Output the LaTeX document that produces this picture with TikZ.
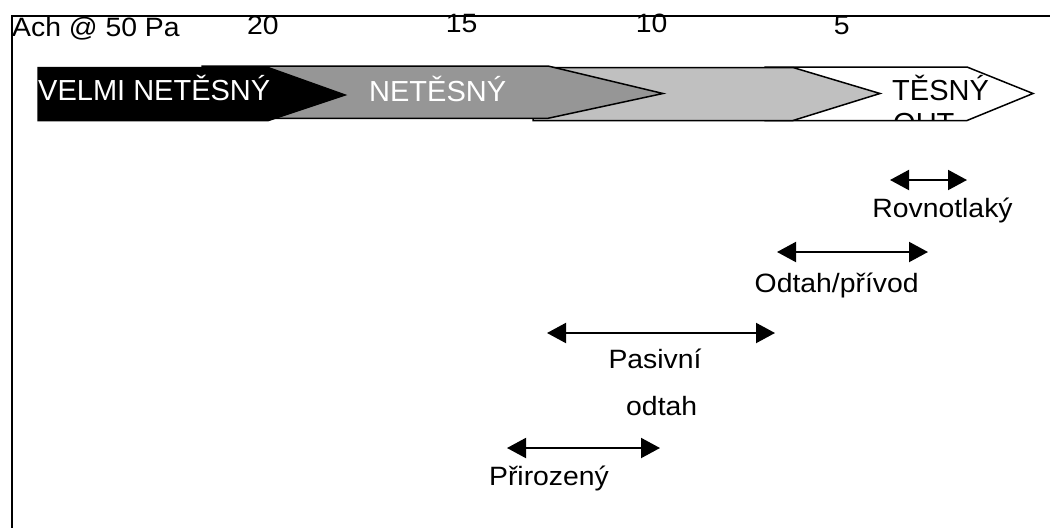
\documentclass[tikz,border=0pt]{standalone}
\usepackage{fontspec}
\setmainfont{Liberation Sans}[FakeStretch=1.07]
\newfontfamily\bandfont{Liberation Sans}
\usetikzlibrary{arrows.meta}
\definecolor{midgray}{HTML}{969696}
\definecolor{lightgray}{HTML}{C0C0C0}
\tikzset{
  lbl/.style={inner sep=0pt, anchor=base, font=\fontsize{26.5}{32}\selectfont},
  bandtxt/.style={inner sep=0pt, anchor=base west, font=\bandfont\fontsize{29}{34}\selectfont},
  band/.style={draw=black, line width=1.5pt, line join=miter},
  dbl/.style={line width=2pt, {Triangle[length=19pt,width=20pt]}-{Triangle[length=19pt,width=20pt]}},
  frame/.style={line width=1.5pt}
}
\begin{document}
\begin{tikzpicture}[x=1pt,y=-1pt]
\useasboundingbox (0,0) rectangle (1050,528);
% frame
\coordinate (ftl) at (12,16);
\coordinate (ftr) at (1050,16);
\coordinate (fbl) at (12,528);
\draw[frame] (ftr) -- (ftl) -- (fbl);
% axis labels
\node[lbl, anchor=base west] (ach) at (12,36.5) {Ach @ 50 Pa};
\node[lbl] (t20) at (263,34.3) {20};
\node[lbl] (t15) at (461.7,32.3) {15};
\node[lbl] (t10) at (651.7,32.3) {10};
\node[lbl] (t5) at (841.7,34.3) {5};
% band: white (TĚSNÝ)
\draw[band, fill=white] (765,67) -- (967,67) -- (1033,93.5) -- (967,120.5) -- (765,120.5) -- cycle;
\node[bandtxt, text=black] (tesny) at (892,100) {TĚSNÝ};
\begin{scope}
\clip (765,67) -- (967,67) -- (1033,93.5) -- (967,120) -- (765,120) -- cycle;
\node[bandtxt, text=black] (tesny2) at (893,133.5) {OUT};
\end{scope}
% band: light gray
\draw[band, fill=lightgray] (533,67.5) -- (793,67.5) -- (880,93.5) -- (793,120.5) -- (533,120.5) -- cycle;
% band: medium gray (NETĚSNÝ)
\draw[band, fill=midgray] (202,66) -- (548,66) -- (663,93.5) -- (548,118.3) -- (202,118.3) -- cycle;
\node[bandtxt, text=white] (netesny) at (369,101) {NETĚSNÝ};
% band: black (VELMI NETĚSNÝ)
\draw[band, fill=black] (38,67.5) -- (268,67.5) -- (345,95) -- (268,120.7) -- (38,120.7) -- cycle;
\node[bandtxt, text=white] (velmi) at (38,100) {VELMI NETĚSNÝ};
% range arrows
\coordinate (ra) at (890,180);
\coordinate (rb) at (967,180);
\draw[dbl] (ra) -- (rb);
\node[lbl] (rovno) at (942.5,217.5) {Rovnotlaký};
\coordinate (oa) at (777,252);
\coordinate (ob) at (928,252);
\draw[dbl] (oa) -- (ob);
\node[lbl] (odtah) at (836.7,292) {Odtah/přívod};
\coordinate (pa) at (547,333);
\coordinate (pb) at (775,333);
\draw[dbl] (pa) -- (pb);
\node[lbl] (pasiv) at (655,368) {Pasivní};
\node[lbl] (pasiv2) at (661.7,415) {odtah};
\coordinate (na) at (507,448);
\coordinate (nb) at (660,448);
\draw[dbl] (na) -- (nb);
\node[lbl] (priro) at (549,485) {Přirozený};
\end{tikzpicture}
\end{document}
